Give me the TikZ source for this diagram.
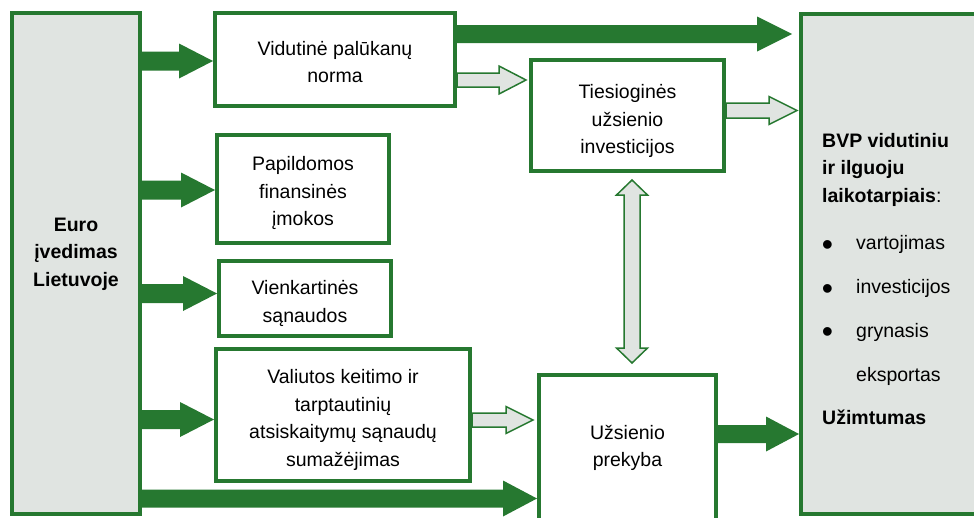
\documentclass[tikz,border=0pt]{standalone}
\usepackage{fontspec}
\setmainfont{Liberation Sans}
\usetikzlibrary{calc}
\definecolor{dgreen}{RGB}{38,120,48}
\definecolor{lgray}{RGB}{224,228,225}
% #1 style, #2 start, #3 tip, #4 shaft half width, #5 head half width, #6 head length
\newcommand\blockarrowh[6]{%
  \path[#1] ($#2+(0,#4)$) -- ($#3+(-#6,#4)$) -- ($#3+(-#6,#5)$) -- #3
    -- ($#3+(-#6,-#5)$) -- ($#3+(-#6,-#4)$) -- ($#2+(0,-#4)$) -- cycle;}
\newcommand\lift[1]{\rule{0pt}{#1pt}}
\begin{document}
\begin{tikzpicture}[x=1pt,y=-1pt,
  box/.style={draw=dgreen, line width=4pt, fill=white, inner sep=0pt, align=center,
    font=\fontsize{19.5}{27.5}\selectfont},
  graybox/.style={box, fill=lgray},
  txt/.style={inner sep=0pt, align=center, font=\fontsize{19.5}{27.5}\selectfont},
  btxt/.style={inner sep=0pt, anchor=base west, font=\fontsize{19.5}{27.5}\selectfont},
  dot/.style={inner sep=0pt, anchor=base west, font=\fontsize{32}{32}\selectfont},
  thick arr/.style={fill=dgreen},
  light arr/.style={fill=lgray, draw=dgreen, line width=1.5pt, line join=miter}]
\useasboundingbox (0,0) rectangle (974,517);

% boxes
\node[graybox, minimum width=128pt, minimum height=501pt] (euro) at (76,263.5) {};
\node[graybox, minimum width=199pt, minimum height=500pt] (bvp) at (900.5,264) {};
\node[box, minimum width=240pt, minimum height=93pt] (vid) at (335,59.5) {\lift{19}Vidutinė palūkanų\\norma};
\node[box, minimum width=172pt, minimum height=108pt] (pap) at (303,189) {\lift{22.5}Papildomos\\finansinės\\įmokos};
\node[box, minimum width=172pt, minimum height=75pt] (vie) at (305,298.5) {\lift{24.5}Vienkartinės\\sąnaudos};
\node[box, minimum width=254pt, minimum height=132pt] (val) at (343,415) {\lift{24.5}Valiutos keitimo ir\\tarptautinių\\atsiskaitymų sąnaudų\\sumažėjimas};
\node[box, minimum width=193pt, minimum height=111pt] (tie) at (627.5,115.5) {\lift{25.5}Tiesioginės\\užsienio\\investicijos};
\node[box, minimum width=177pt, minimum height=165pt] (uzs) at (627.5,457.5) {};

% texts
\node[txt, font=\fontsize{19.5}{27.5}\selectfont\bfseries] (eurotxt) at (76,254) {Euro\\įvedimas\\Lietuvoje};
\node[txt] (uzstxt) at (627.5,448) {Užsienio\\prekyba};
\node[btxt, font=\fontsize{19.5}{27.5}\selectfont\bfseries] (b1) at (822,147) {BVP vidutiniu};
\node[btxt, font=\fontsize{19.5}{27.5}\selectfont\bfseries] (b2) at (822,174.5) {ir ilguoju};
\node[btxt] (b3) at (822,202) {\textbf{laikotarpiais}:};
\node[dot] (d1) at (821.6,255) {•};
\node[btxt] (i1) at (856,249.5) {vartojimas};
\node[dot] (d2) at (821.6,299) {•};
\node[btxt] (i2) at (856,293.5) {investicijos};
\node[dot] (d3) at (821.6,342.5) {•};
\node[btxt] (i3) at (856,337.5) {grynasis};
\node[btxt] (i4) at (856,381.5) {eksportas};
\node[btxt, font=\fontsize{19.5}{27.5}\selectfont\bfseries] (b4) at (822,424.5) {Užimtumas};

% connector end points
\path (euro.east |- 0,61) coordinate (a1s) (vid.west |- 0,61) coordinate (a1e)
      (euro.east |- 0,190) coordinate (a2s) (pap.west |- 0,190) coordinate (a2e)
      (euro.east |- 0,293.5) coordinate (a3s) (vie.west |- 0,293.5) coordinate (a3e)
      (euro.east |- 0,419.5) coordinate (a4s) (val.west |- 0,419.5) coordinate (a4e)
      (euro.east |- 0,498.5) coordinate (a5s) (uzs.west |- 0,498.5) coordinate (a5e)
      (vid.east |- 0,34) coordinate (a6s)
      (uzs.east |- 0,434) coordinate (a7s) (bvp.west |- 0,434) coordinate (a7e)
      (vid.east |- 0,80) coordinate (l1s)
      (tie.east |- 0,110.5) coordinate (l2s)
      (val.east |- 0,420) coordinate (l3s);
\path (bvp.west |- 0,34) ++(-7,0) coordinate (a6e);
\path (tie.west |- 0,80) ++(-3,0) coordinate (l1e);
\path (bvp.west |- 0,110.5) ++(-2,0) coordinate (l2e);
\path (uzs.west |- 0,420) ++(-4,0) coordinate (l3e);
\path (tie.south -| 632,0) ++(0,7) coordinate (v1);
\path (uzs.north -| 632,0) ++(0,-10) coordinate (v2);

% thick arrows
\blockarrowh{thick arr}{(a1s)}{(a1e)}{9.5}{17.5}{34}
\blockarrowh{thick arr}{(a2s)}{(a2e)}{9.5}{17.5}{34}
\blockarrowh{thick arr}{(a3s)}{(a3e)}{9.5}{17.5}{34}
\blockarrowh{thick arr}{(a4s)}{(a4e)}{9.5}{17.5}{34}
\blockarrowh{thick arr}{(a5s)}{(a5e)}{9}{18}{34}
\blockarrowh{thick arr}{(a6s)}{(a6e)}{9}{17.5}{35}
\blockarrowh{thick arr}{(a7s)}{(a7e)}{9}{17.5}{33}

% light arrows
\blockarrowh{light arr}{(l1s)}{(l1e)}{7}{14}{27}
\blockarrowh{light arr}{(l2s)}{(l2e)}{7.5}{14}{28}
\blockarrowh{light arr}{(l3s)}{(l3e)}{7}{13.5}{27}
\path[light arr] (v1) -- ++(15.5,15) -- ++(-7.5,0) -- ($(v2)+(8,-15)$) -- ++(7.5,0)
  -- (v2) -- ++(-15.5,-15) -- ++(7.5,0) -- ($(v1)+(-8,15)$) -- ++(-7.5,0) -- cycle;
\end{tikzpicture}
\end{document}
